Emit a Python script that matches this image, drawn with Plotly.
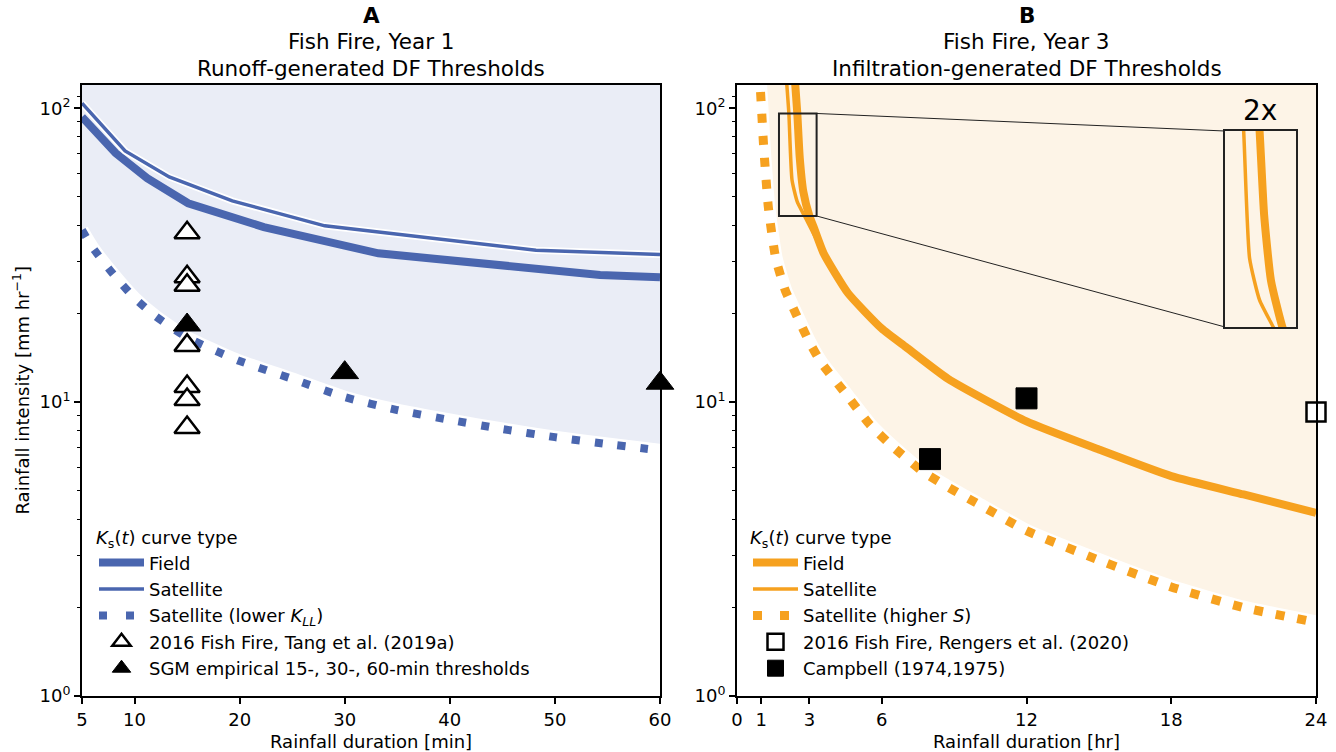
import math
import plotly.graph_objects as go

# ---------------- data ----------------
# Panel A (duration in min, intensity in mm/hr)
a_field_dur = [5, 8.2, 11.2, 15.1, 22.3, 33.2, 54.3, 60]
a_field_int = [93.4, 70.4, 57.8, 47.5, 39.4, 32.1, 27.1, 26.6]
a_sat_dur = [5, 9.1, 13.3, 19.3, 28.1, 48.2, 60]
a_sat_int = [104, 71.6, 58.4, 48.4, 39.8, 32.9, 31.8]
a_low_dur = [5, 6, 8, 10, 12, 15, 18, 20, 25, 30, 35, 40, 45, 50, 55, 60]
a_low_int = [38.5, 33.6, 27.2, 22.6, 19.6, 16.6, 14.8, 13.8, 12.0, 10.4, 9.4, 8.7, 8.1, 7.6, 7.2, 6.85]
a_tang_dur = [15, 15, 15, 15, 15, 15, 15]
a_tang_int = [37.7, 26.7, 25.0, 15.6, 11.3, 10.2, 8.2]
a_sgm_dur = [15, 30, 60]
a_sgm_int = [18.3, 12.6, 11.6]

# Panel B (duration in hr, intensity in mm/hr)
b_field_hr = [2.4, 2.5, 2.6, 2.75, 3.0, 3.2, 3.6, 4.6, 6.0, 7.0, 8.75, 12, 15, 18, 21, 24]
b_field_int = [125, 96, 68, 52, 43, 39, 32, 23.5, 17.8, 15.4, 12.0, 8.6, 6.9, 5.6, 4.85, 4.2]
b_sat_hr = [2.05, 2.15, 2.28, 2.5, 2.8, 3.1, 3.6, 4.6, 6.0, 7.0, 8.75, 12, 15, 18, 21, 24]
b_sat_int = [125, 96, 57, 48, 43, 38.5, 32, 23.5, 17.8, 15.4, 12.0, 8.6, 6.9, 5.6, 4.85, 4.2]
b_hs_hr = [0.92, 1.0, 1.1, 1.3, 1.6, 2.0, 2.5, 3.0, 3.5, 4.5, 5.5, 6.5, 7.7, 9, 10, 12, 15, 18, 21, 24]
b_hs_int = [135, 105, 75, 46, 31, 24, 19.5, 16, 13.6, 10.7, 8.4, 7.0, 5.8, 5.0, 4.5, 3.65, 2.9, 2.35, 2.0, 1.78]
b_rengers_hr = [24]
b_rengers_int = [9.25]
b_campbell_hr = [8, 12]
b_campbell_int = [6.4, 10.3]

a_xticks = [5, 10, 20, 30, 40, 50, 60]
b_xticks = [0, 1, 3, 6, 12, 18, 24]
y_ticks = [1, 10, 100]
y_ticktext = ["10<sup>0</sup>", "10<sup>1</sup>", "10<sup>2</sup>"]

# ---------------- styles ----------------
BLUE = "#4A66AF"
BLUE_FILL = "#EAEDF6"
ORANGE = "#F6A11F"
ORANGE_FILL = "#FDF4E7"
FONT = "DejaVu Sans"
FS = 18
TFS = 21.5
W, H = 1336, 752
YMAX = 120
TOP = 1000

XA = [82 / W, 660 / W]
XB = [737 / W, 1316 / W]
YD = [1 - 696 / H, 1 - 85 / H]
XI = [1225 / W, 1296 / W]
YI = [1 - 327 / H, 1 - 131 / H]
ZOOM_X = [1.74, 3.30]
ZOOM_Y = [43, 96]

fig = go.Figure()

# ---- Panel A ----
fig.add_trace(go.Scatter(x=a_low_dur + [a_low_dur[-1], a_low_dur[0]],
                         y=a_low_int + [TOP, TOP], fill="toself", fillcolor=BLUE_FILL,
                         mode="none", showlegend=False, hoverinfo="skip",
                         line=dict(shape="spline", smoothing=0.6),
                         xaxis="x", yaxis="y"))
fig.add_trace(go.Scatter(x=a_low_dur, y=a_low_int, mode="lines",
                         line=dict(color="white", width=13, shape="spline", smoothing=0.6),
                         showlegend=False, hoverinfo="skip", xaxis="x", yaxis="y"))
fig.add_trace(go.Scatter(x=a_field_dur, y=a_field_int, mode="lines", name="Field",
                         line=dict(color=BLUE, width=8), legend="legend", legendrank=1,
                         xaxis="x", yaxis="y"))
fig.add_trace(go.Scatter(x=a_sat_dur, y=a_sat_int, mode="lines",
                         line=dict(color="white", width=7), showlegend=False,
                         hoverinfo="skip", xaxis="x", yaxis="y"))
fig.add_trace(go.Scatter(x=a_sat_dur, y=a_sat_int, mode="lines", name="Satellite",
                         line=dict(color=BLUE, width=3.5), legend="legend", legendrank=2,
                         xaxis="x", yaxis="y"))
fig.add_trace(go.Scatter(x=a_low_dur, y=a_low_int, mode="lines", showlegend=False,
                         line=dict(color=BLUE, width=8, dash="8px,15px", shape="spline",
                                   smoothing=0.6),
                         xaxis="x", yaxis="y"))
# legend-only entry (wider dash spacing so the short legend sample shows two squares)
fig.add_trace(go.Scatter(x=[None], y=[None], mode="lines",
                         name="Satellite (lower <i>K</i><sub><i>LL</i></sub>)",
                         line=dict(color=BLUE, width=8, dash="8px,19px"),
                         legend="legend", legendrank=3, xaxis="x", yaxis="y"))
fig.add_trace(go.Scatter(x=a_tang_dur, y=a_tang_int, mode="markers",
                         name="2016 Fish Fire, Tang et al. (2019a)",
                         marker=dict(symbol="triangle-up", size=22, color="white",
                                     line=dict(color="black", width=2.5)),
                         legend="legend", legendrank=4, cliponaxis=False,
                         xaxis="x", yaxis="y"))
fig.add_trace(go.Scatter(x=a_sgm_dur, y=a_sgm_int, mode="markers",
                         name="SGM empirical 15-, 30-, 60-min thresholds",
                         marker=dict(symbol="triangle-up", size=24, color="black",
                                     line=dict(color="black", width=1)),
                         legend="legend", legendrank=5, cliponaxis=False,
                         xaxis="x", yaxis="y"))

# ---- Panel B ----
SPL = dict(shape="spline", smoothing=0.5)
fig.add_trace(go.Scatter(x=b_hs_hr + [b_hs_hr[-1], b_hs_hr[0]],
                         y=b_hs_int + [TOP, TOP], fill="toself", fillcolor=ORANGE_FILL,
                         mode="none", showlegend=False, hoverinfo="skip",
                         xaxis="x2", yaxis="y2"))
fig.add_trace(go.Scatter(x=b_hs_hr, y=b_hs_int, mode="lines",
                         line=dict(color="white", width=14, **SPL), showlegend=False,
                         hoverinfo="skip", xaxis="x2", yaxis="y2"))
fig.add_trace(go.Scatter(x=b_sat_hr, y=b_sat_int, mode="lines", name="Satellite",
                         line=dict(color=ORANGE, width=3.5, **SPL), legend="legend2",
                         legendrank=2, xaxis="x2", yaxis="y2"))
fig.add_trace(go.Scatter(x=b_field_hr, y=b_field_int, mode="lines", name="Field",
                         line=dict(color=ORANGE, width=8, **SPL), legend="legend2",
                         legendrank=1, xaxis="x2", yaxis="y2"))
fig.add_trace(go.Scatter(x=b_hs_hr, y=b_hs_int, mode="lines", showlegend=False,
                         line=dict(color=ORANGE, width=9, dash="9px,13px", **SPL),
                         xaxis="x2", yaxis="y2"))
fig.add_trace(go.Scatter(x=[None], y=[None], mode="lines",
                         name="Satellite (higher <i>S</i>)",
                         line=dict(color=ORANGE, width=9, dash="9px,18px"),
                         legend="legend2", legendrank=3, xaxis="x2", yaxis="y2"))
fig.add_trace(go.Scatter(x=b_rengers_hr, y=b_rengers_int, mode="markers",
                         name="2016 Fish Fire, Rengers et al. (2020)",
                         marker=dict(symbol="square", size=19, color="white",
                                     line=dict(color="black", width=2.5)),
                         legend="legend2", legendrank=4, cliponaxis=False,
                         xaxis="x2", yaxis="y2"))
fig.add_trace(go.Scatter(x=b_campbell_hr, y=b_campbell_int, mode="markers",
                         name="Campbell (1974,1975)",
                         marker=dict(symbol="square", size=21, color="black",
                                     line=dict(color="black", width=1)),
                         legend="legend2", legendrank=5, cliponaxis=False,
                         xaxis="x2", yaxis="y2"))

# ---- Inset (2x zoom) ----
fig.add_trace(go.Scatter(x=b_sat_hr, y=b_sat_int, mode="lines",
                         line=dict(color=ORANGE, width=3.5, **SPL), showlegend=False,
                         hoverinfo="skip", xaxis="x3", yaxis="y3"))
fig.add_trace(go.Scatter(x=b_field_hr, y=b_field_int, mode="lines",
                         line=dict(color=ORANGE, width=8, **SPL), showlegend=False,
                         hoverinfo="skip", xaxis="x3", yaxis="y3"))

# ---------------- axes ----------------
tickfont = dict(family=FONT, size=FS, color="black")
common_ax = dict(showline=True, linecolor="black", linewidth=2, mirror=True,
                 ticks="outside", ticklen=6, tickwidth=1.5, tickcolor="black",
                 showgrid=False, zeroline=False, tickfont=tickfont, automargin=False)
minor_vals = [v * m for m in (1, 10) for v in range(2, 10)] + [110]
yax = dict(type="log", range=[0, math.log10(YMAX)], tickvals=y_ticks, ticktext=y_ticktext,
           minor=dict(ticks="outside", ticklen=3.5, tickwidth=1, tickcolor="black",
                      tickvals=minor_vals, showgrid=False),
           domain=YD, **common_ax)

legend_common = dict(xanchor="left", yanchor="top", bgcolor="rgba(0,0,0,0)",
                     font=dict(family=FONT, size=FS), itemwidth=45,
                     title=dict(text="<i>K</i><sub>s</sub>(<i>t</i>) curve type",
                                font=dict(family=FONT, size=FS)),
                     tracegroupgap=0)
fig.update_layout(
    width=W, height=H, margin=dict(l=0, r=0, t=0, b=0),
    paper_bgcolor="white", plot_bgcolor="rgba(0,0,0,0)",
    font=dict(family=FONT, size=FS, color="black"),
    xaxis=dict(domain=XA, range=[5, 60], tickvals=a_xticks, anchor="y", **common_ax),
    yaxis=dict(anchor="x", **yax),
    xaxis2=dict(domain=XB, range=[0, 24], tickvals=b_xticks, anchor="y2", **common_ax),
    yaxis2=dict(anchor="x2", **yax),
    xaxis3=dict(domain=XI, range=ZOOM_X, anchor="y3", showline=True, mirror=True,
                linecolor="#222222", linewidth=2, showticklabels=False, ticks="",
                showgrid=False, zeroline=False),
    yaxis3=dict(domain=YI, type="log", range=[math.log10(ZOOM_Y[0]), math.log10(ZOOM_Y[1])],
                anchor="x3", showline=True, mirror=True, linecolor="#222222", linewidth=2,
                showticklabels=False, ticks="", showgrid=False, zeroline=False),
    legend=dict(x=94 / W, y=1 - 521 / H, **legend_common),
    legend2=dict(x=748 / W, y=1 - 521 / H, **legend_common),
    showlegend=True,
)

# ---------------- zoom box & connectors ----------------
LYMAX = math.log10(YMAX)


def bx(v):
    return XB[0] + v / 24 * (XB[1] - XB[0])


def by(v):
    return YD[0] + math.log10(v) / LYMAX * (YD[1] - YD[0])


bx0, bx1 = bx(ZOOM_X[0]), bx(ZOOM_X[1])
by0, by1 = by(ZOOM_Y[0]), by(ZOOM_Y[1])
fig.add_shape(type="rect", xref="paper", yref="paper", x0=bx0, x1=bx1, y0=by0, y1=by1,
              line=dict(color="#222222", width=2))
fig.add_shape(type="line", xref="paper", yref="paper", x0=bx1, y0=by1, x1=XI[0], y1=YI[1],
              line=dict(color="#222222", width=1))
fig.add_shape(type="line", xref="paper", yref="paper", x0=bx1, y0=by0, x1=XI[0], y1=YI[0],
              line=dict(color="#222222", width=1))


# ---------------- text ----------------
def ann(text, x, y, size=TFS, **kw):
    fig.add_annotation(text=text, x=x, y=y, xref="paper", yref="paper", showarrow=False,
                       xanchor="center", yanchor="middle",
                       font=dict(family=FONT, size=size, color="black"), **kw)


ca = (XA[0] + XA[1]) / 2
cb = (XB[0] + XB[1]) / 2
ann("<b>A</b>", ca, 1 - 15 / H)
ann("Fish Fire, Year 1", ca, 1 - 42 / H)
ann("Runoff-generated DF Thresholds", ca, 1 - 68 / H)
ann("<b>B</b>", cb, 1 - 15 / H)
ann("Fish Fire, Year 3", cb, 1 - 42 / H)
ann("Infiltration-generated DF Thresholds", cb, 1 - 68 / H)
ann("2x", 1260 / W, 1 - 110 / H, size=28)
ann("Rainfall duration [min]", ca, 1 - 741 / H, size=FS)
ann("Rainfall duration [hr]", cb, 1 - 741 / H, size=FS)
ann("Rainfall intensity [mm hr<sup>−1</sup>]", 22 / W, (YD[0] + YD[1]) / 2, size=FS,
    textangle=-90)

fig.write_html("out.html")
